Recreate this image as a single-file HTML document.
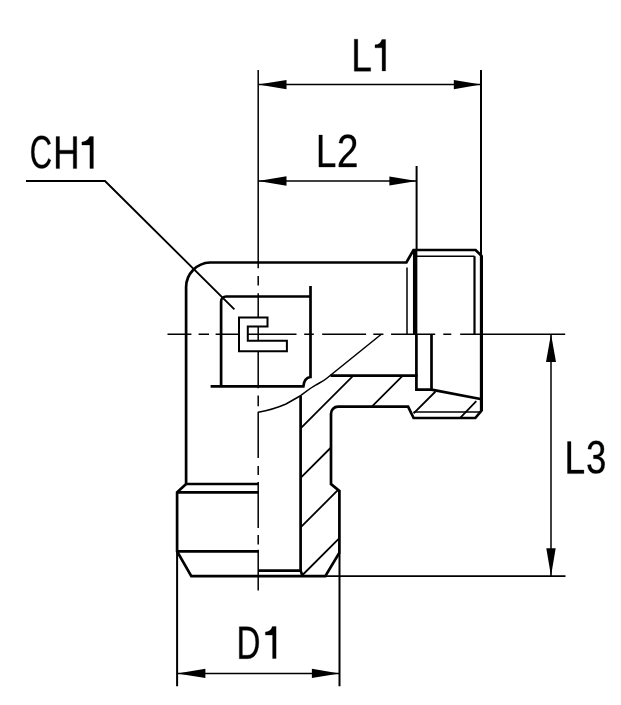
<!DOCTYPE html>
<html><head><meta charset="utf-8">
<style>
html,body{margin:0;padding:0;background:#fff;width:621px;height:705px;overflow:hidden}
svg{display:block}
text{font-family:"Liberation Sans",sans-serif;font-size:46.5px;fill:#000}
</style></head>
<body>
<svg width="621" height="705" viewBox="0 0 621 705">
<rect width="621" height="705" fill="#fff"/>
<!-- thin lines -->
<g stroke="#000" stroke-width="1.5" fill="none" stroke-linecap="butt">
  <!-- vertical centerline -->
  <path d="M258.2 70V268.2M258.2 275.9V285.5M258.2 293.3V388.3M258.2 395.5V406.2M258.2 411.7V457.9M258.2 466V474.9M258.2 482.1V528M258.2 535V544.6M258.2 549.7V590.6"/>
  <!-- horizontal centerline -->
  <path d="M167.5 334.2H191.4M198.6 334.2H209M215.6 334.2H238.9M248 334.2H296.5M304.2 334.2H313.8M322.2 334.2H366.1M373.3 334.2H383.4M391.1 334.2H435.2M443.3 334.2H451.3M460.2 334.2H565.2"/>
  <!-- L1 dim -->
  <path d="M481 70V255" stroke-width="2"/>
  <path d="M258.2 84.6H481"/>
  <!-- L2 dim -->
  <path d="M416.6 166V250" stroke-width="2"/>
  <path d="M258.2 181H416.6"/>
  <!-- CH1 leader -->
  <path d="M26 181.05H105L234.4 309.4" stroke-width="1.9"/>
  <!-- L3 dim -->
  <path d="M551 334V576"/>
  <path d="M325 576.1H565.5" stroke-width="1.8"/>
  <!-- D1 dim -->
  <path d="M177.1 552V686.3M339.5 553V686.3" stroke-width="2"/>
  <path d="M177.1 673.4H339.5"/>
  <!-- thin body lines -->
  <path d="M407 267.4V334M416 256.2H474.5M413.6 412H480"/>
  <path d="M474.5 256.2V334" stroke-width="2.2"/>
  <path d="M258.2 412.2C268 410.5 278 407.5 286 404L300 396C306 391.5 311 387.5 316 384.8C320 382.6 323 381.5 326.5 378.5L381 334.5" stroke-width="1.5"/>
</g>
<!-- hatch -->
<g stroke="#000" stroke-width="1.8" fill="none">
  <path d="M300.6 428.4L353.3 375.7"/>
  <path d="M300.6 477.9L331 447.5M371.8 406.7L402.8 375.7"/>
  <path d="M413.6 413.4L435.5 391.5M300.6 527.4L338.1 489.9"/>
  <path d="M460.2 417.8L476.3 401.2M302.5 575L339.4 538.1"/>
</g>
<!-- arrows -->
<g fill="#000">
  <path d="M258.2 84.6L286.5 79.9V89.3Z"/>
  <path d="M481 84.6L453.8 79.9V89.3Z"/>
  <path d="M258.2 181L286.5 176.3V185.7Z"/>
  <path d="M416.8 181L389.4 176.4V185.6Z"/>
  <path d="M551 334L546 362V362H556Z"/>
  <path d="M551 576L546.3 548.3H555.7Z"/>
  <path d="M177.1 673.4L205.4 668.7V678.1Z"/>
  <path d="M339.5 673.4L311.9 668.8V678Z"/>
</g>
<!-- thick lines -->
<g stroke="#000" stroke-width="2.7" fill="none" stroke-linejoin="miter" stroke-linecap="butt">
  <path d="M186.1 484V287A24.7 24.7 0 0 1 210 262.5H406.4L413.5 250H475.6L481.2 255.5V411L475.3 418H413.6L408.1 406.7H338A7 7 0 0 0 331 413.7V484L339.4 491V552.7L325.3 576.2H191.3L177.1 551.3V492.3L186.1 484"/>
  <path d="M186.1 484H258.2M177.1 492.3H258.2M177.1 551.3H258.2"/>
  <!-- hex flat -->
  <path d="M221.1 386V301.5A5 5 0 0 1 226.1 296.5H311.7M310.5 286V377Q304 378 303.4 386.3M210.6 386.3H304.6"/>
  <!-- horizontal port -->
  <path d="M415.15 250V334" stroke-width="4.4"/>
  <path d="M481.5 255.5V411" stroke-width="3"/>
  <path d="M416.4 334V389.7H431.5V334M431.5 389.7L480.5 399"/>
  <path d="M330.5 375.7H417.6"/>
  <path d="M300.6 396V570.6H258.2M300.6 570.6L302.5 575.8"/>
</g>
<!-- C symbol -->
<path d="M239 317.5H267.5V326.5H247.8V340.8H286.9V351.3H239Z" stroke="#000" stroke-width="2" fill="#fff"/>
<!-- text -->
<g fill="#000" stroke="#000" stroke-width="0.3">
<path d="M354.3 71.2V39.21H357.77V67.66H370.7V71.2Z"/>
<path d="M375.00 44.84Q380.20 44.84 381.90 39.50H385.60V70.90H382.10V47.82H375.00Z"/>
<path d="M318.9 167V135.01H322.35V163.46H335.2V167Z"/>
<path d="M338.8 167V164.12Q339.77 161.46 341.16 159.43Q342.56 157.4 344.09 155.75Q345.63 154.1 347.14 152.7Q348.65 151.29 349.86 149.88Q351.07 148.47 351.82 146.93Q352.57 145.38 352.57 143.43Q352.57 140.8 351.28 139.35Q349.99 137.89 347.7 137.89Q345.52 137.89 344.1 139.31Q342.69 140.73 342.44 143.3L338.95 142.91Q339.33 139.07 341.67 136.8Q344.02 134.53 347.7 134.53Q351.74 134.53 353.91 136.81Q356.08 139.1 356.08 143.3Q356.08 145.16 355.37 147Q354.66 148.84 353.26 150.68Q351.85 152.51 347.89 156.37Q345.71 158.51 344.42 160.22Q343.13 161.94 342.56 163.53H356.5V167Z"/>
<path d="M41.7 139.22Q38.16 139.22 36.2 142.64Q34.23 146.05 34.23 152Q34.23 157.88 36.28 161.46Q38.33 165.04 41.82 165.04Q46.29 165.04 48.54 158.38L50.9 160.15Q49.59 164.29 47.21 166.44Q44.83 168.6 41.68 168.6Q38.46 168.6 36.11 166.59Q33.76 164.58 32.53 160.85Q31.3 157.11 31.3 152Q31.3 144.35 34.05 140.01Q36.8 135.68 41.67 135.68Q45.07 135.68 47.35 137.68Q49.63 139.67 50.7 143.6L47.97 144.96Q47.23 142.17 45.59 140.7Q43.95 139.22 41.7 139.22Z"/>
<path d="M73.26 168.6V153.77H59.54V168.6H56.1V136.61H59.54V150.14H73.26V136.61H76.7V168.6Z"/>
<path d="M81.90 142.01Q87.10 142.01 89.70 136.60H93.40V168.40H89.90V145.03H81.90Z"/>
<path d="M567.5 473.6V441.61H570.97V470.06H583.9V473.6Z"/>
<path d="M604.7 464.31Q604.7 468.74 602.5 471.17Q600.31 473.6 596.23 473.6Q592.44 473.6 590.18 471.41Q587.93 469.22 587.5 464.93L590.79 464.54Q591.43 470.22 596.23 470.22Q598.64 470.22 600.01 468.7Q601.39 467.17 601.39 464.18Q601.39 461.57 599.82 460.1Q598.25 458.64 595.29 458.64H593.49V455.1H595.22Q597.84 455.1 599.29 453.63Q600.73 452.17 600.73 449.58Q600.73 447.01 599.55 445.53Q598.38 444.04 596.06 444.04Q593.95 444.04 592.65 445.42Q591.34 446.81 591.13 449.33L587.93 449.01Q588.28 445.08 590.47 442.88Q592.65 440.68 596.09 440.68Q599.85 440.68 601.93 442.91Q604.01 445.15 604.01 449.15Q604.01 452.21 602.67 454.13Q601.33 456.05 598.78 456.73V456.82Q601.58 457.21 603.14 459.23Q604.7 461.25 604.7 464.31Z"/>
<path d="M258.8 642.38Q258.8 647.32 257.43 651.04Q256.07 654.75 253.56 656.72Q251.05 658.7 247.77 658.7H239.3V626.71H246.79Q252.55 626.71 255.67 630.78Q258.8 634.86 258.8 642.38ZM255.71 642.38Q255.71 636.43 253.41 633.3Q251.1 630.18 246.73 630.18H242.37V655.23H247.42Q249.91 655.23 251.8 653.68Q253.69 652.14 254.7 649.23Q255.71 646.33 255.71 642.38Z"/>
<path d="M265.40 632.02Q270.60 632.02 272.40 626.60H276.10V658.50H272.60V635.05H265.40Z"/>
</g>
</svg>
</body></html>
